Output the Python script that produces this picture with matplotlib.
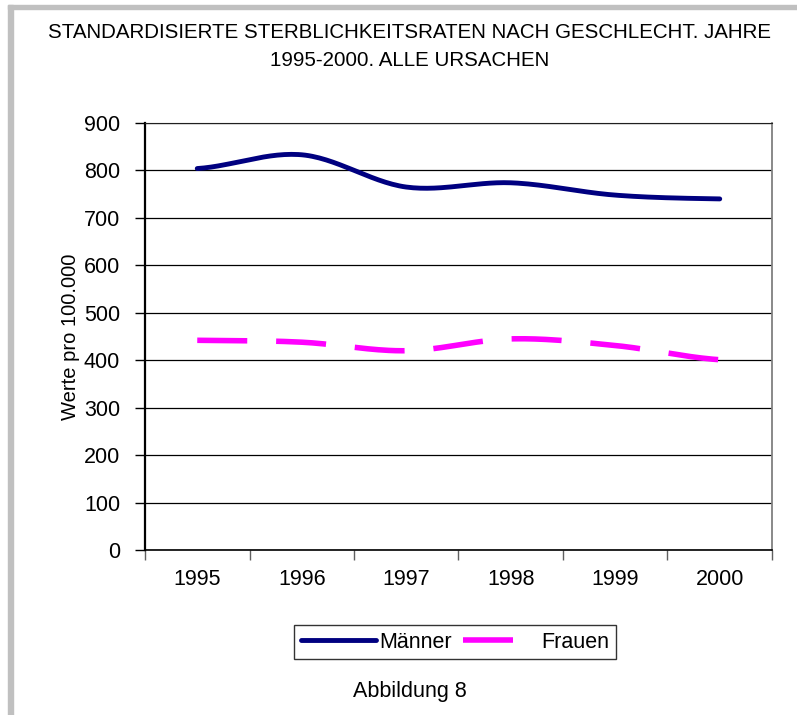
import numpy as np
import matplotlib
matplotlib.use("Agg")
import matplotlib.pyplot as plt
from matplotlib.patches import Rectangle

years = ["1995", "1996", "1997", "1998", "1999", "2000"]
maenner = [804, 833, 765, 774, 748, 740]
frauen = [442, 438, 420, 445, 431, 401]
yticks = [0, 100, 200, 300, 400, 500, 600, 700, 800, 900]

plt.rcParams['font.family'] = ['Liberation Sans', 'DejaVu Sans']

W, H = 797, 715
FS = 15.5


def smooth(vals, n=30):
    # Catmull-Rom like Excel's smoothed lines
    p = np.asarray(vals, dtype=float)
    p = np.concatenate([[p[0]], p, [p[-1]]])
    xs, ys = [], []
    for i in range(1, len(p) - 2):
        p0, p1, p2, p3 = p[i - 1], p[i], p[i + 1], p[i + 2]
        m1 = (p2 - p0) / 2
        m2 = (p3 - p1) / 2
        t = np.linspace(0, 1, n, endpoint=(i == len(p) - 3))
        h00 = 2 * t**3 - 3 * t**2 + 1
        h10 = t**3 - 2 * t**2 + t
        h01 = -2 * t**3 + 3 * t**2
        h11 = t**3 - t**2
        xs.append(i - 1 + t)
        ys.append(h00 * p1 + h10 * m1 + h01 * p2 + h11 * m2)
    return np.concatenate(xs), np.concatenate(ys)


fig = plt.figure(figsize=(W / 100, H / 100), dpi=100)

# grey frame on left and top
fig.patches.append(Rectangle((8 / W, 0), 5 / W, (H - 5) / H,
                             transform=fig.transFigure, color="#c0c0c0"))
fig.patches.append(Rectangle((8 / W, (H - 9) / H), 1, 4 / H,
                             transform=fig.transFigure, color="#c0c0c0"))

ax = fig.add_axes([145 / W, (H - 550) / H, 627 / W, 427 / H])

x = np.arange(len(years))
mx, my = smooth(maenner)
fx, fy = smooth(frauen)
ax.plot(mx, my, color="#000080", lw=3.5, solid_capstyle="round",
        label="Männer", zorder=3)
ax.plot(fx, fy, color="#ff00ff", lw=4.0, dashes=(9.0, 5.2),
        dash_capstyle="butt", label="Frauen", zorder=3)

ax.set_xlim(-0.5, len(years) - 0.5)
ax.set_ylim(0, 900)
ax.set_yticks(yticks)
ax.set_yticklabels([str(v) for v in yticks], fontsize=FS)
ax.set_xticks(x)
ax.set_xticklabels(years, fontsize=FS)
ax.set_xticks(np.arange(-0.5, len(years)), minor=True)
ax.tick_params(axis="x", which="major", length=0, pad=14)
ax.tick_params(axis="x", which="minor", length=7, width=1, color="#606060")
ax.tick_params(axis="y", length=7, width=1, pad=11)
ax.yaxis.grid(True, color="black", lw=0.9)
ax.set_axisbelow(True)

ax.spines["left"].set_linewidth(1.6)
ax.spines["bottom"].set_linewidth(1.2)
ax.spines["top"].set_color("#202020")
ax.spines["right"].set_color("#808080")
ax.spines["right"].set_linewidth(1.3)

ax.set_ylabel("Werte pro 100.000", fontsize=14.5, labelpad=3)

title_lines = ["STANDARDISIERTE STERBLICHKEITSRATEN NACH GESCHLECHT. JAHRE",
               "1995-2000. ALLE URSACHEN"]
fig.text(410 / W, 1 - 33 / H, title_lines[0],
         ha="center", va="center", fontsize=14.8)
fig.text(410 / W, 1 - 60 / H, title_lines[1],
         ha="center", va="center", fontsize=14.8)

leg = fig.legend(loc="center", bbox_to_anchor=(455 / W, 1 - 642 / H),
                 ncol=2, fontsize=FS, frameon=True, fancybox=False,
                 handlelength=3.5, handletextpad=0.15, columnspacing=0.5,
                 borderpad=0.3, edgecolor="black")
leg.get_frame().set_linewidth(1.0)

fig.text(410 / W, 1 - 692 / H, "Abbildung 8", ha="center", va="center",
         fontsize=FS)

fig.savefig("out.png", dpi=100)
